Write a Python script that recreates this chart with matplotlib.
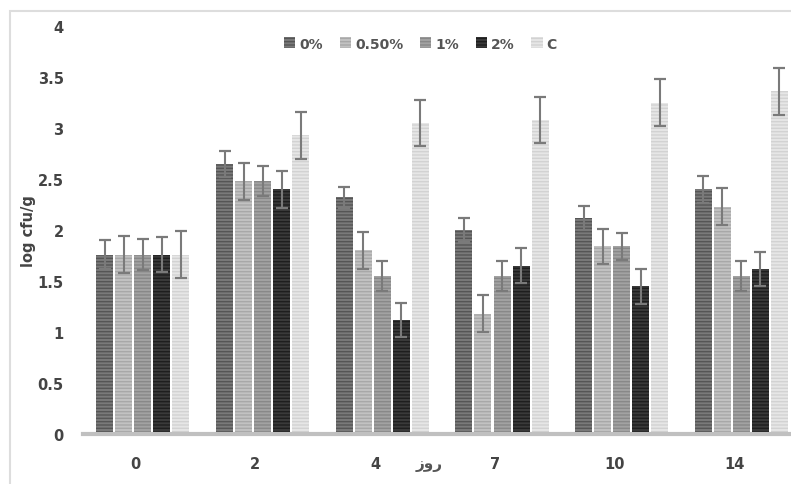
import matplotlib
matplotlib.use("Agg")
import matplotlib.pyplot as plt
import matplotlib.patches as mpatches
import numpy as np

plt.rcParams['font.family'] = ['DejaVu Sans']
plt.rcParams['hatch.linewidth'] = 1.0

days = ['0', '2', '4', '7', '10', '14']
series = ['0%', '0.50%', '1%', '2%', 'C']
v0   = [1.76, 2.65, 2.32, 2.00, 2.12, 2.40]
v05  = [1.76, 2.48, 1.80, 1.18, 1.84, 2.23]
v1   = [1.76, 2.48, 1.55, 1.55, 1.84, 1.55]
v2   = [1.76, 2.40, 1.12, 1.65, 1.45, 1.62]
vc   = [1.76, 2.93, 3.05, 3.08, 3.25, 3.36]
e0   = [0.14, 0.13, 0.10, 0.12, 0.12, 0.13]
e05  = [0.18, 0.18, 0.18, 0.18, 0.17, 0.18]
e1   = [0.15, 0.15, 0.15, 0.15, 0.13, 0.15]
e2   = [0.17, 0.18, 0.17, 0.17, 0.17, 0.17]
ec   = [0.23, 0.23, 0.23, 0.23, 0.23, 0.23]
xlabel = 'روز'
ylabel = 'log cfu/g'

vals = [v0, v05, v1, v2, vc]
errs = [e0, e05, e1, e2, ec]
faces = ['#7a7a7a', '#c2c2c2', '#a2a2a2', '#3a3a3a', '#e6e6e6']
hatchc = ['#555555', '#a8a8a8', '#888888', '#1e1e1e', '#d2d2d2']

fig = plt.figure(figsize=(7.91, 4.85), dpi=100)
ax = fig.add_axes([0.105, 0.103, 0.908, 0.841])
x = np.arange(len(days))
w = 0.142
step = 0.159
for i in range(5):
    pos = x + (i - 2) * step
    ax.bar(pos, vals[i], width=w, color=faces[i], edgecolor=hatchc[i], hatch='-----',
           linewidth=0, label=series[i], zorder=2)
    ax.errorbar(pos, vals[i], yerr=errs[i], fmt='none', ecolor='#7a7a7a',
                elinewidth=1.5, capsize=4, capthick=1.6, zorder=3)

ax.set_xlim(-0.5, 5.5)
ax.set_ylim(0, 4)
ax.set_xticks(x - 0.06)
ax.set_xticklabels(days)
ax.set_yticks(np.arange(0, 4.01, 0.5))
ax.set_yticklabels(['0', '0.5', '1', '1.5', '2', '2.5', '3', '3.5', '4'])
for s in ['top', 'right', 'left']:
    ax.spines[s].set_visible(False)
ax.spines['bottom'].set_color('#c0c0c0')
ax.spines['bottom'].set_linewidth(3)
ax.tick_params(axis='y', length=0, labelsize=10.5, colors='#444444', pad=14)
ax.tick_params(axis='x', length=0, labelsize=10.5, colors='#444444', pad=16)
for t in ax.get_xticklabels() + ax.get_yticklabels():
    t.set_fontweight('bold')
ax.set_ylabel(ylabel, fontsize=10.5, fontweight='bold', color='#444444', labelpad=1)
fig.text(0.543, 0.042, xlabel[::-1], fontsize=11, fontweight='bold', color='#555555',
         ha='center', va='center')

leg = ax.legend(loc='upper center', bbox_to_anchor=(0.47, 1.005), ncol=5, frameon=False,
                fontsize=10, handlelength=0.8, handleheight=0.8, handletextpad=0.3,
                columnspacing=1.2)
for t in leg.get_texts():
    t.set_color('#555555')
    t.set_fontweight('bold')

fig.patches.append(mpatches.Rectangle((10/791, -0.01), 1.0, 1 - 12/485 + 0.01,
                   transform=fig.transFigure, fill=False, edgecolor='#dddddd', linewidth=1.5))
fig.savefig('out.png', dpi=100)
